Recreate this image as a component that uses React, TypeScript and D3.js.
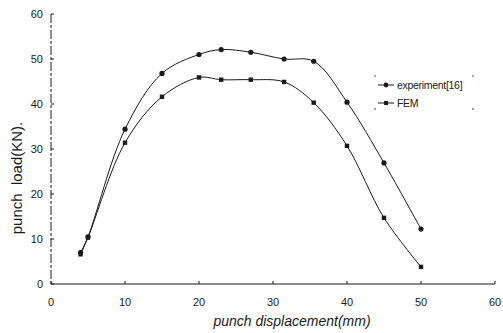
import { useEffect, useRef } from "react";
import * as d3 from "d3";

type Pt = { x: number; y: number };

const experimentX = [4, 5, 10, 15, 20, 23, 27, 31.5, 35.5, 40, 45, 50];
const experimentY = [7, 10.5, 34.4, 46.8, 51, 52.1, 51.5, 50, 49.5, 40.4, 26.9, 12.2];
const femX = [4, 5, 10, 15, 20, 23, 27, 31.5, 35.5, 40, 45, 50];
const femY = [6.6, 10.3, 31.4, 41.6, 45.9, 45.4, 45.4, 44.9, 40.3, 30.7, 14.7, 3.8];
const xTicks = [0, 10, 20, 30, 40, 50, 60];
const yTicks = [0, 10, 20, 30, 40, 50, 60];
const legendLabels = ["experiment[16]", "FEM"];

const W = 503;
const H = 333;

const App = () => {
  const svgRef = useRef<SVGSVGElement | null>(null);

  useEffect(() => {
    if (!svgRef.current) return;
    const svg = d3.select(svgRef.current);
    svg.selectAll("*").remove();

    const x = d3.scaleLinear().domain([0, 60]).range([51, 495]);
    const y = d3.scaleLinear().domain([0, 60]).range([284, 14]);
    const ink = "#1a1a1a";
    const font = "Arial, 'Liberation Sans', sans-serif";

    svg.append("rect").attr("width", W).attr("height", H).attr("fill", "#fff");

    // y axis (broken, scanned look)
    svg.append("line")
      .attr("x1", x(0)).attr("x2", x(0))
      .attr("y1", y(60)).attr("y2", y(0))
      .attr("stroke", ink).attr("stroke-width", 1)
      .attr("stroke-dasharray", "9,2,3,2");
    svg.append("line")
      .attr("x1", x(0)).attr("x2", x(60))
      .attr("y1", y(0)).attr("y2", y(0))
      .attr("stroke", ink).attr("stroke-width", 1.1);

    yTicks.forEach((t) => {
      svg.append("line")
        .attr("x1", x(0)).attr("x2", x(0) + 3)
        .attr("y1", y(t)).attr("y2", y(t))
        .attr("stroke", ink);
      svg.append("text")
        .attr("x", 43).attr("y", y(t) + 4)
        .attr("text-anchor", "end")
        .attr("font-family", font).attr("font-size", 11)
        .attr("fill", ink)
        .text(t);
    });
    xTicks.forEach((t) => {
      svg.append("line")
        .attr("x1", x(t)).attr("x2", x(t))
        .attr("y1", y(0)).attr("y2", y(0) - 3)
        .attr("stroke", ink);
      svg.append("text")
        .attr("x", x(t)).attr("y", y(0) + 22)
        .attr("text-anchor", "middle")
        .attr("font-family", font).attr("font-size", 11)
        .attr("fill", ink)
        .text(t);
    });

    svg.append("text")
      .attr("transform", `translate(22, 178) rotate(-90)`)
      .attr("text-anchor", "middle")
      .attr("font-family", font).attr("font-size", 15)
      .attr("fill", ink)
      .style("white-space", "pre")
      .text("punch  load(KN).");
    svg.append("text")
      .attr("x", 292).attr("y", 326)
      .attr("text-anchor", "middle")
      .attr("font-family", font).attr("font-size", 14)
      .attr("font-style", "italic")
      .attr("fill", ink)
      .text("punch displacement(mm)");

    const line = d3.line<Pt>()
      .x((d) => x(d.x))
      .y((d) => y(d.y))
      .curve(d3.curveCatmullRom.alpha(0.5));

    const exp: Pt[] = experimentX.map((v, i) => ({ x: v, y: experimentY[i] }));
    const fem: Pt[] = femX.map((v, i) => ({ x: v, y: femY[i] }));

    [exp, fem].forEach((s) => {
      svg.append("path")
        .datum(s)
        .attr("fill", "none")
        .attr("stroke", ink)
        .attr("stroke-width", 1)
        .attr("d", line);
    });

    svg.selectAll("circle.exp")
      .data(exp)
      .join("circle")
      .attr("cx", (d) => x(d.x))
      .attr("cy", (d) => y(d.y))
      .attr("r", 2.6)
      .attr("fill", ink);
    svg.selectAll("rect.fem")
      .data(fem)
      .join("rect")
      .attr("x", (d) => x(d.x) - 2.2)
      .attr("y", (d) => y(d.y) - 2.2)
      .attr("width", 4.4)
      .attr("height", 4.4)
      .attr("fill", ink);

    // legend
    const lg = svg.append("g").attr("transform", "translate(375, 75)");
    const corners = [[0, 0], [98, 0], [0, 35], [98, 35]];
    corners.forEach(([cx, cy]) => {
      lg.append("line")
        .attr("x1", cx).attr("x2", cx)
        .attr("y1", cy).attr("y2", cy + (cy === 0 ? 2 : -2))
        .attr("stroke", ink).attr("stroke-width", 0.8);
    });
    legendLabels.forEach((lab, i) => {
      const yy = 10 + i * 18;
      lg.append("line")
        .attr("x1", 3).attr("x2", 19)
        .attr("y1", yy).attr("y2", yy)
        .attr("stroke", ink);
      if (i === 0) {
        lg.append("circle").attr("cx", 11).attr("cy", yy).attr("r", 2.4).attr("fill", ink);
      } else {
        lg.append("rect").attr("x", 9).attr("y", yy - 2).attr("width", 4).attr("height", 4).attr("fill", ink);
      }
      lg.append("text")
        .attr("x", 22).attr("y", yy + 4)
        .attr("font-family", font).attr("font-size", 10.5)
        .attr("letter-spacing", -0.3)
        .attr("fill", ink)
        .text(lab);
    });
  }, []);

  return (
    <svg
      ref={svgRef}
      width={W}
      height={H}
      style={{ position: "absolute", left: 0, top: 0 }}
    />
  );
};

export default App;
